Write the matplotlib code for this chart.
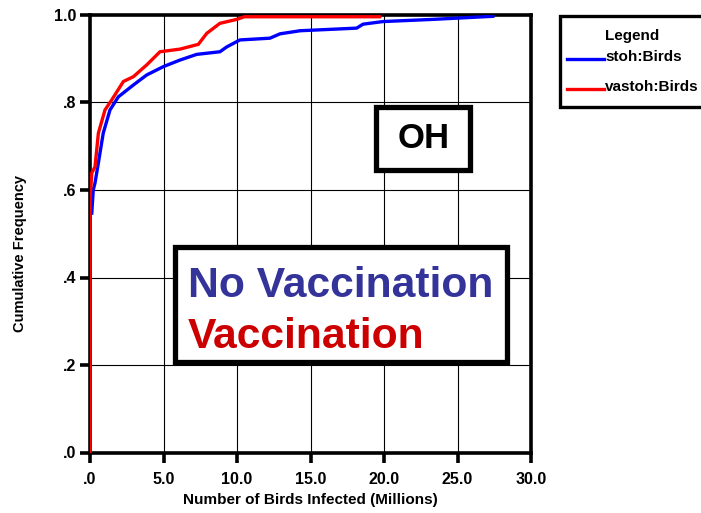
import matplotlib
matplotlib.use("Agg")
import matplotlib.pyplot as plt
from matplotlib.patches import Rectangle

plt.rcParams['font.family'] = ['Liberation Sans', 'DejaVu Sans']
plt.rcParams['font.weight'] = 'bold'

# Data (Number of birds infected in millions vs cumulative frequency)
stoh_x = [0.0, 0.0, 0.12, 0.22, 0.34, 0.57, 0.9, 1.36, 1.93, 2.95, 3.86, 4.99, 6.12,
          7.26, 8.84, 9.3, 10.2, 12.24, 12.93, 14.29, 18.14, 18.57, 19.93, 23.33, 27.4]
stoh_y = [0.0, 0.547, 0.547, 0.60, 0.616, 0.662, 0.73, 0.783, 0.813, 0.840, 0.863, 0.882, 0.897,
          0.910, 0.916, 0.927, 0.943, 0.947, 0.957, 0.964, 0.970, 0.979, 0.985, 0.990, 0.997]

vastoh_x = [0.0, 0.0, 0.12, 0.34, 0.57, 1.02, 1.48, 2.27, 2.95, 3.86, 4.76, 6.12, 7.37,
            7.94, 8.84, 9.98, 10.5, 19.7]
vastoh_y = [0.0, 0.577, 0.639, 0.653, 0.73, 0.783, 0.806, 0.848, 0.859, 0.886, 0.916, 0.922, 0.933,
            0.958, 0.981, 0.990, 0.996, 0.996]

xticks = [0, 5, 10, 15, 20, 25, 30]
xtick_labels = ['.0', '5.0', '10.0', '15.0', '20.0', '25.0', '30.0']
yticks = [0.0, 0.2, 0.4, 0.6, 0.8, 1.0]
ytick_labels = ['.0', '.2', '.4', '.6', '.8', '1.0']

W, H = 701, 513
fig = plt.figure(figsize=(W / 100, H / 100), dpi=100)

def fx(x):
    return x / W

def fy(y):
    return 1 - y / H

ax = fig.add_axes([fx(90), fy(452.5), fx(531) - fx(90), fy(15) - fy(452.5)])
ax.plot(stoh_x, stoh_y, color='#0000FF', lw=2.4, solid_joinstyle='miter', zorder=3)
ax.plot(vastoh_x, vastoh_y, color='#FF0000', lw=2.4, solid_joinstyle='miter', zorder=4)

ax.set_xlim(0, 30)
ax.set_ylim(0, 1.0)
ax.set_xticks(xticks)
ax.set_xticklabels(xtick_labels)
ax.set_yticks(yticks)
ax.set_yticklabels(ytick_labels)
ax.grid(True, color='black', lw=0.8)
ax.set_axisbelow(True)
for s in ax.spines.values():
    s.set_linewidth(2.6)
    s.set_color('black')
ax.tick_params(direction='out', length=7, width=2.6, labelsize=11.5)
ax.tick_params(axis='x', pad=7)
ax.tick_params(axis='y', pad=3)
for lab in ax.get_xticklabels() + ax.get_yticklabels():
    lab.set_fontweight('bold')

ax.set_xlabel('Number of Birds Infected (Millions)', fontsize=11, fontweight='bold')
ax.xaxis.set_label_coords((fx(310) - fx(90)) / (fx(531) - fx(90)),
                          (fy(500) - fy(452.5)) / (fy(15) - fy(452.5)))
ax.xaxis.label.set_va('center')
ax.set_ylabel('Cumulative Frequency', fontsize=10.5, fontweight='bold')
ax.yaxis.set_label_coords((fx(20) - fx(90)) / (fx(531) - fx(90)),
                          (fy(253) - fy(452.5)) / (fy(15) - fy(452.5)))
ax.yaxis.label.set_va('center')

# OH box
fig.patches.append(Rectangle((fx(376), fy(170)), fx(470) - fx(376), fy(107) - fy(170),
                             transform=fig.transFigure, facecolor='white', edgecolor='black',
                             lw=3.8, zorder=5))
fig.text(fx(424), fy(139), 'OH', fontsize=25, fontweight='bold', color='black',
         ha='center', va='center', zorder=6)

# Vaccination box
fig.patches.append(Rectangle((fx(175), fy(362)), fx(507) - fx(175), fy(247) - fy(362),
                             transform=fig.transFigure, facecolor='white', edgecolor='black',
                             lw=3.8, zorder=5))
fig.text(fx(188), fy(297), 'No Vaccination', fontsize=30.7, fontweight='bold', color='#333399',
         ha='left', va='baseline', zorder=6)
fig.text(fx(188), fy(348), 'Vaccination', fontsize=30.7, fontweight='bold', color='#CC0000',
         ha='left', va='baseline', zorder=6)

# Legend box
fig.patches.append(Rectangle((fx(560), fy(107)), fx(720) - fx(560), fy(16) - fy(107),
                             transform=fig.transFigure, facecolor='white', edgecolor='black',
                             lw=2.4, zorder=5, clip_on=False))
fig.text(fx(605), fy(36), 'Legend', fontsize=11, fontweight='bold', ha='left', va='center', zorder=6)
fig.add_artist(plt.Line2D([fx(567), fx(604)], [fy(59), fy(59)], transform=fig.transFigure,
                          color='#0000FF', lw=2.4, zorder=6))
fig.text(fx(605), fy(57), 'stoh:Birds', fontsize=11, fontweight='bold', ha='left', va='center', zorder=6)
fig.add_artist(plt.Line2D([fx(567), fx(604)], [fy(89), fy(89)], transform=fig.transFigure,
                          color='#FF0000', lw=2.4, zorder=6))
fig.text(fx(605), fy(87), 'vastoh:Birds', fontsize=11, fontweight='bold', ha='left', va='center', zorder=6)

fig.savefig('out.png', dpi=100)
